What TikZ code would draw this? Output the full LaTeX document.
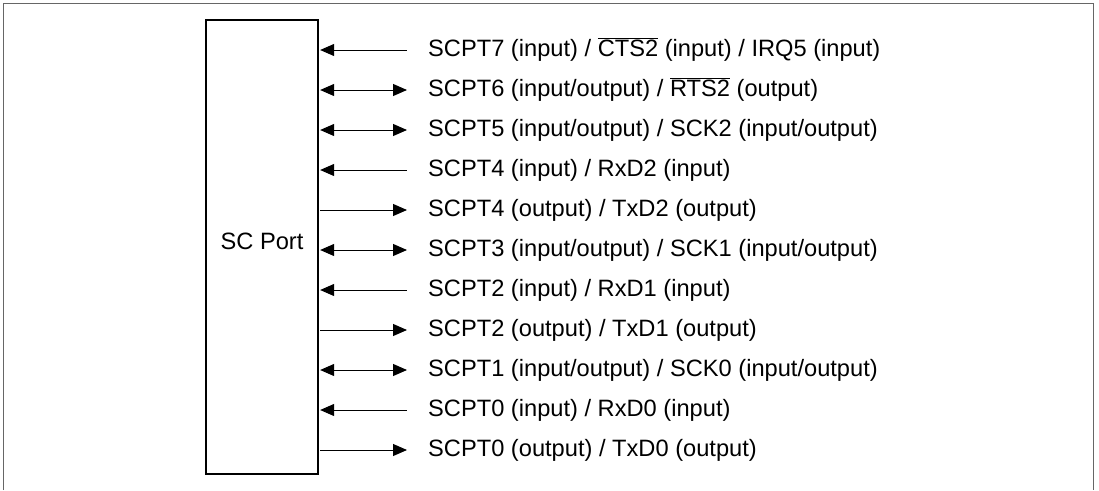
\documentclass[tikz,border=0pt]{standalone}
\usepackage{fontspec}
\setmainfont{Liberation Sans}
\usetikzlibrary{arrows.meta}
\begin{document}
\begin{tikzpicture}[x=1pt,y=-1pt,
  font=\fontsize{23.65}{28}\selectfont,
  frame/.style={draw=black!60, line width=1pt},
  portbox/.style={draw=black, line width=1.3pt, minimum width=112pt, minimum height=454pt, inner sep=0pt},
  sig/.style={anchor=west, inner xsep=21pt, inner ysep=0pt, text height=17pt, text depth=5pt},
  conn/.style={line width=1pt, shorten <=1.5pt, >={Triangle[length=14pt,width=12pt]}}
]
\useasboundingbox (0,0) rectangle (1099,490);
\draw[frame] (3.5,490) -- (3.5,3.5) -- (1093,3.5) -- (1093,490);
\node[portbox] (port) at (262,247) {};
\node[anchor=base, inner sep=0pt] (portlabel) at (262,249) {SC Port};
\foreach \i/\dir/\txt in {
  0/{<-}/{SCPT7 (input) / $\overline{\hbox{CTS2}}$ (input) / IRQ5 (input)},
  1/{<->}/{SCPT6 (input/output) / $\overline{\hbox{RTS2}}$ (output)},
  2/{<->}/{SCPT5 (input/output) / SCK2 (input/output)},
  3/{<-}/{SCPT4 (input) / RxD2 (input)},
  4/{->}/{SCPT4 (output) / TxD2 (output)},
  5/{<->}/{SCPT3 (input/output) / SCK1 (input/output)},
  6/{<-}/{SCPT2 (input) / RxD1 (input)},
  7/{->}/{SCPT2 (output) / TxD1 (output)},
  8/{<->}/{SCPT1 (input/output) / SCK0 (input/output)},
  9/{<-}/{SCPT0 (input) / RxD0 (input)},
  10/{->}/{SCPT0 (output) / TxD0 (output)}}{
  \node[sig] (s\i) at (407,50+40*\i) {\txt};
  \draw[conn, \dir] (port.east |- s\i.west) -- (s\i.west);
}
\end{tikzpicture}
\end{document}
